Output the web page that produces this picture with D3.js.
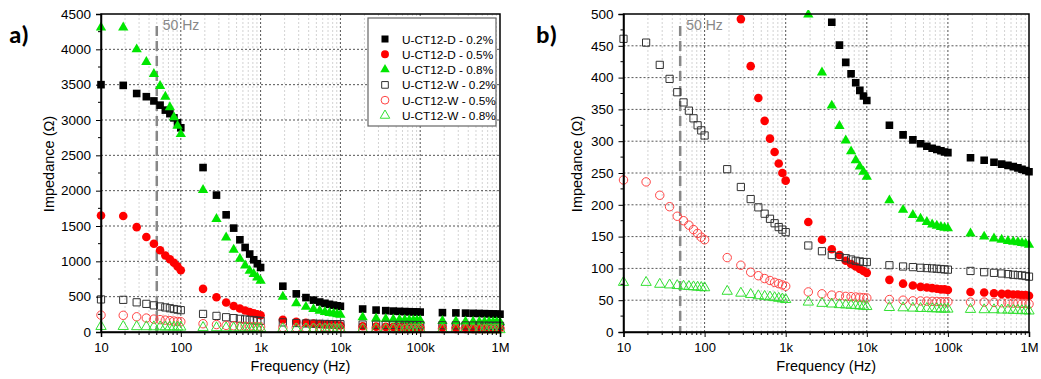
<!DOCTYPE html>
<html>
<head>
<meta charset="utf-8">
<script src="https://cdn.jsdelivr.net/npm/d3@7/dist/d3.min.js"></script>
<style>
  body { margin: 0; background: #fff; }
  svg { display: block; font-family: "Liberation Sans", Arial, sans-serif; }
</style>
</head>
<body>
<script>
// frequencies (Hz), linear steps inside each decade
var freq = [10, 19, 28, 37, 46, 55, 64, 73, 82, 91, 100,
  190, 280, 370, 460, 550, 640, 730, 820, 910, 1000,
  1900, 2800, 3700, 4600, 5500, 6400, 7300, 8200, 9100, 10000,
  19000, 28000, 37000, 46000, 55000, 64000, 73000, 82000, 91000, 100000,
  190000, 280000, 370000, 460000, 550000, 640000, 730000, 820000, 910000, 1000000];

var d02 = [3500, 3490, 3375, 3330, 3270, 3210, 3140, 3090, 3030, 2960, 2890,
  2327, 1937, 1658, 1470, 1305, 1196, 1103, 1022, 966, 913,
  648, 540, 487, 451, 424, 406, 392, 380, 371, 364,
  325, 310, 302, 296, 292, 289, 287, 285, 283, 282,
  274, 270, 267, 264, 262, 260, 258, 256, 254, 252];

var d05 = [1648, 1642, 1484, 1345, 1248, 1156, 1082, 1030, 980, 928, 874,
  610, 492, 418, 368, 332, 304, 283, 265, 250, 238,
  173, 145, 130, 121, 112, 107, 103, 99, 96, 93,
  82, 76, 73, 71, 70, 69, 68, 67, 67, 66,
  63, 62, 61, 60, 60, 59, 59, 58, 58, 57];

var d08 = [4310, 4310, 4000, 3820, 3650, 3482, 3330, 3180, 3040, 2917, 2800,
  2010, 1600, 1337, 1164, 1036, 942, 867, 820, 772, 725,
  499, 408, 356, 324, 301, 284, 270, 260, 252, 244,
  207, 192, 184, 178, 173, 169, 167, 165, 164, 163,
  155, 150, 147, 145, 143, 142, 141, 140, 139, 137];

var w02 = [461, 455, 420, 398, 377, 361, 348, 336, 325, 317, 309,
  256, 228, 209, 196, 186, 178, 171, 165, 161, 157,
  136, 127, 121, 118, 116, 114, 112, 111, 110, 110,
  105, 103, 102, 101, 100.5, 100, 99.5, 99, 98.5, 98,
  96, 94, 93, 92, 91, 90, 89.5, 89, 88, 87];

var w05 = [239, 236, 215, 197, 182, 175, 168, 161, 155, 149, 145,
  117, 105, 94, 88.5, 84, 81, 78, 76, 74, 72,
  63, 60, 58, 57, 56, 55.5, 55, 54.5, 54, 53.5,
  51, 50, 49, 48.8, 48.5, 48.2, 48, 47.8, 47.6, 47.6,
  47, 47, 46.5, 46, 46, 45.5, 45.5, 45, 45, 44];

var w08 = [78, 78, 75, 74, 73, 72, 71.5, 71, 70.5, 70, 69.5,
  64, 61, 59, 57, 56, 55, 54, 53, 52, 51,
  47, 45, 44, 43, 42.5, 42, 41.5, 41, 40.5, 40,
  38.5, 38, 37.5, 37, 37, 36.5, 36.5, 36, 36, 36,
  35.5, 35, 35, 34.5, 34.5, 34, 34, 33.5, 33.5, 33];

var seriesNames = ["U-CT12-D - 0.2%", "U-CT12-D - 0.5%", "U-CT12-D - 0.8%",
  "U-CT12-W - 0.2%", "U-CT12-W - 0.5%", "U-CT12-W - 0.8%"];
var xTickValues = [10, 100, 1000, 10000, 100000, 1000000];
var xTickLabels = ["10", "100", "1k", "10k", "100k", "1M"];
var yTicksA = [0, 500, 1000, 1500, 2000, 2500, 3000, 3500, 4000, 4500];
var yTicksB = [0, 50, 100, 150, 200, 250, 300, 350, 400, 450, 500];
var markLine = 50;

var styles = [
  {shape: d3.symbolSquare, size: 58, fill: "#000", stroke: "none"},
  {shape: d3.symbolCircle, size: 58, fill: "#ff0000", stroke: "none"},
  {shape: d3.symbolTriangle, size: 46, fill: "#00e600", stroke: "none"},
  {shape: d3.symbolSquare, size: 52, fill: "none", stroke: "#333"},
  {shape: d3.symbolCircle, size: 56, fill: "none", stroke: "#ff4444"},
  {shape: d3.symbolTriangle, size: 46, fill: "none", stroke: "#33e033"}
];
var series = [d02, d05, d08, w02, w05, w08];

var svg = d3.select("body").append("svg")
  .attr("width", 1041)
  .attr("height", 379);

function drawPanel(o) {
  var x = d3.scaleLog().domain([10, 1e6]).range([o.x0, o.x1]);
  var y = d3.scaleLinear().domain([0, o.ymax]).range([332, 14]);
  var g = svg.append("g");

  // minor vertical grid
  var minor = x.ticks().filter(function(t){ return xTickValues.indexOf(t) < 0; });
  g.selectAll(".mgrid").data(minor).enter().append("line")
    .attr("x1", function(d){ return x(d); }).attr("x2", function(d){ return x(d); })
    .attr("y1", 14).attr("y2", 332)
    .attr("stroke", "#c8c8c8").attr("stroke-width", 0.8).attr("stroke-dasharray", "2,2");

  // major grid
  g.selectAll(".vgrid").data(xTickValues.slice(1, -1)).enter().append("line")
    .attr("x1", function(d){ return x(d); }).attr("x2", function(d){ return x(d); })
    .attr("y1", 14).attr("y2", 332)
    .attr("stroke", "#555").attr("stroke-width", 1).attr("stroke-dasharray", "2,2");
  g.selectAll(".hgrid").data(o.yticks.slice(1, -1)).enter().append("line")
    .attr("x1", o.x0).attr("x2", o.x1)
    .attr("y1", function(d){ return y(d); }).attr("y2", function(d){ return y(d); })
    .attr("stroke", "#555").attr("stroke-width", 1).attr("stroke-dasharray", "2,2");

  // 50 Hz line
  g.append("line")
    .attr("x1", x(markLine)).attr("x2", x(markLine))
    .attr("y1", 26).attr("y2", 332)
    .attr("stroke", "#888").attr("stroke-width", 2.5).attr("stroke-dasharray", "10,5");
  g.append("text")
    .attr("x", x(markLine) + 6).attr("y", 30)
    .attr("fill", "#888").attr("font-size", 14)
    .text("50 Hz");

  // data
  var clip = "clip" + o.id;
  svg.append("clipPath").attr("id", clip).append("rect")
    .attr("x", o.x0 - 6).attr("y", 10).attr("width", o.x1 - o.x0 + 12).attr("height", 330);
  var dg = g.append("g").attr("clip-path", "url(#" + clip + ")");
  series.forEach(function(vals, i){
    var st = styles[i];
    var pts = freq.map(function(f, j){ return [f, vals[j]]; })
      .filter(function(p){ return p[1] <= o.ymax; });
    dg.selectAll(".s" + i).data(pts).enter().append("path")
      .attr("d", d3.symbol().type(st.shape).size(st.size))
      .attr("transform", function(p){ return "translate(" + x(p[0]) + "," + y(p[1]) + ")"; })
      .attr("fill", st.fill).attr("stroke", st.stroke).attr("stroke-width", 1);
  });

  // frame
  g.append("rect")
    .attr("x", o.x0).attr("y", 14).attr("width", o.x1 - o.x0).attr("height", 318)
    .attr("fill", "none").attr("stroke", "#000").attr("stroke-width", 1.5);

  // axes
  var xAxis = d3.axisBottom(x).tickValues(xTickValues)
    .tickFormat(function(d, i){ return xTickLabels[i]; }).tickSize(5).tickPadding(6);
  var xa = g.append("g").attr("transform", "translate(0,332)").call(xAxis);
  xa.selectAll("text").attr("font-size", 13).attr("fill", "#000");
  xa.append("g").selectAll("line").data(minor).enter().append("line")
    .attr("x1", function(d){ return x(d); }).attr("x2", function(d){ return x(d); })
    .attr("y1", 0).attr("y2", 3).attr("stroke", "#000");

  var step = o.yticks[1] - o.yticks[0];
  var yminor = o.yticks.slice(0, -1).map(function(t){ return t + step / 2; });
  var yAxis = d3.axisLeft(y).tickValues(o.yticks).tickFormat(d3.format("d"))
    .tickSize(5).tickPadding(5);
  var ya = g.append("g").attr("transform", "translate(" + o.x0 + ",0)").call(yAxis);
  ya.selectAll("text").attr("font-size", 13.5).attr("fill", "#000");
  ya.append("g").selectAll("line").data(yminor).enter().append("line")
    .attr("x1", 0).attr("x2", -3)
    .attr("y1", function(d){ return y(d); }).attr("y2", function(d){ return y(d); })
    .attr("stroke", "#000");
  g.selectAll(".domain").attr("stroke-width", 1.5);

  // titles
  g.append("text")
    .attr("x", (o.x0 + o.x1) / 2).attr("y", 371)
    .attr("text-anchor", "middle").attr("font-size", 14.5)
    .text("Frequency (Hz)");
  g.append("text")
    .attr("transform", "translate(" + o.ytx + ",164) rotate(-90)")
    .attr("text-anchor", "middle").attr("font-size", 14.5)
    .text("Impedance (\u03A9)");
  g.append("text")
    .attr("x", o.lx).attr("y", 43)
    .attr("font-size", 25).attr("font-weight", "bold")
    .attr("font-family", "Calibri, Carlito, 'Liberation Sans', sans-serif")
    .text(o.label);
}

drawPanel({id: "a", x0: 101, x1: 500, ymax: 4500, yticks: yTicksA, ytx: 54, lx: 9, label: "a)"});
drawPanel({id: "b", x0: 623.5, x1: 1029, ymax: 500, yticks: yTicksB, ytx: 582, lx: 536, label: "b)"});

// legend (panel a)
var lg = svg.append("g").attr("transform", "translate(368,18)");
lg.append("rect").attr("width", 128).attr("height", 108)
  .attr("fill", "#fff").attr("stroke", "#666").attr("stroke-width", 1.2);
seriesNames.forEach(function(name, i){
  var st = styles[i];
  var yy = 21 + i * 15.3;
  lg.append("path")
    .attr("d", d3.symbol().type(st.shape).size(st.size * 0.85))
    .attr("transform", "translate(17," + yy + ")")
    .attr("fill", st.fill).attr("stroke", st.stroke);
  lg.append("text").attr("x", 34).attr("y", yy + 4.5)
    .attr("font-size", 11.8).text(name);
});
</script>
</body>
</html>
